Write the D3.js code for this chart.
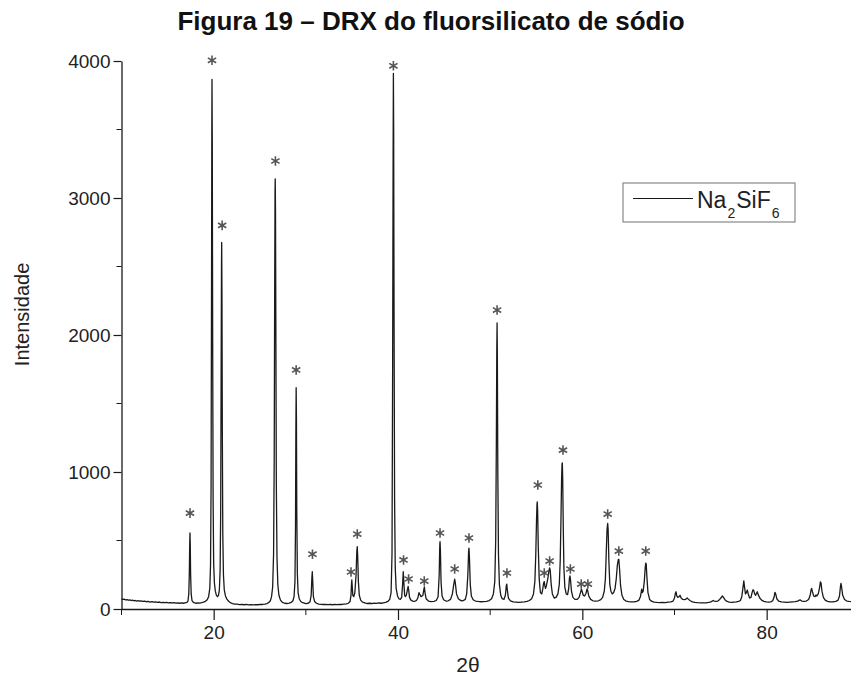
<!DOCTYPE html>
<html>
<head>
<meta charset="utf-8">
<script src="https://cdn.jsdelivr.net/npm/d3@7"></script>
<style>
  html, body { margin: 0; padding: 0; background: #fff; }
  svg { display: block; font-family: "Liberation Sans", Arial, sans-serif; }
</style>
</head>
<body>
<svg id="chart" width="851" height="680"></svg>
<script>
// ---- data ----
const titleText = "Figura 19 – DRX do fluorsilicato de sódio";
const xLabel = "2θ";
const yLabel = "Intensidade";
const xMajorTicks = [20, 40, 60, 80];
const xMinorTicks = [10, 30, 50, 70];
const yMajorTicks = [0, 1000, 2000, 3000, 4000];
const yMinorTicks = [500, 1500, 2500, 3500];

// diffractogram: [2θ, intensity]
const pattern = [
[10.00,74],[10.15,70],[10.3,72],[10.45,66],[10.6,69],[10.75,64],[10.9,66],[11.05,62],[11.2,65],[11.35,60],[11.5,62],[11.65,58],[11.8,61],[11.95,57],[12.1,59],[12.3,55],[12.5,57],[12.7,53],[12.9,55],[13.1,51],[13.3,54],[13.5,50],[13.7,52],[13.9,49],[14.1,51],[14.3,47],[14.5,49],[14.7,46],[14.9,48],[15.1,45],[15.3,47],[15.5,44],[15.7,46],[15.9,43],[16.1,45],[16.3,42],[16.5,44],[16.7,42],[16.9,45],[17.1,48],[17.22,60],
[17.3,110],[17.36,260],[17.4,470],[17.43,555],[17.46,470],[17.5,250],[17.56,110],[17.65,62],[17.8,48],
[17.95,44],[18.1,42],[18.3,44],[18.5,43],[18.7,46],[18.9,50],[19.1,56],[19.3,68],[19.45,90],[19.58,150],[19.66,320],[19.72,900],[19.77,2400],[19.8,3500],[19.82,3865],[19.85,3400],[19.89,2000],[19.94,800],[20.0,330],[20.08,190],[20.18,130],[20.3,100],[20.42,90],[20.52,100],[20.62,140],[20.7,280],[20.76,700],[20.81,1700],[20.85,2500],[20.87,2675],[20.9,2300],[20.94,1300],[20.99,550],[21.06,250],[21.15,140],[21.28,95],[21.45,70],[21.65,55],[21.85,45],[22.05,40],[22.3,36],[22.55,35],[22.8,32],[23.05,34],[23.3,31],[23.55,33],[23.8,30],[24.05,32],[24.3,30],[24.55,32],[24.8,31],[25.05,33],[25.3,33],[25.55,36],[25.8,40],[26.0,48],[26.15,60],[26.28,90],[26.4,160],[26.5,400],[26.57,1100],[26.62,2300],[26.66,3050],[26.68,3140],[26.71,2900],[26.75,2000],[26.8,900],[26.87,380],[26.96,180],[27.08,100],[27.25,65],[27.45,48],[27.7,42],[27.95,40],[28.2,43],[28.4,48],[28.6,60],[28.72,90],[28.82,200],[28.88,600],[28.92,1300],[28.95,1615],[28.98,1400],[29.02,700],[29.08,260],[29.16,120],[29.28,75],[29.45,55],[29.65,46],[29.85,42],[30.05,40],[30.25,42],[30.45,52],[30.58,100],[30.65,220],[30.7,272],[30.75,200],[30.82,90],[30.95,55],[31.15,42],[31.4,36],[31.65,34],[31.9,33],[32.15,34],[32.4,32],[32.65,33],[32.9,31],[33.15,33],[33.4,32],[33.65,34],[33.9,33],[34.15,35],[34.4,37],[34.6,42],[34.8,55],[34.9,100],[34.96,190],[34.99,212],[35.03,170],[35.1,100],[35.2,90],[35.32,120],[35.45,250],[35.53,420],[35.58,455],[35.63,380],[35.7,200],[35.8,100],[35.95,65],[36.15,50],[36.4,44],[36.65,40],[36.9,42],[37.15,40],[37.4,43],[37.65,41],[37.9,44],[38.15,42],[38.4,45],[38.65,48],[38.9,55],[39.1,70],[39.25,120],[39.35,400],[39.42,1800],[39.47,3300],[39.5,3910],[39.53,3500],[39.57,2200],[39.63,800],[39.7,300],[39.8,150],[39.95,95],[40.1,75],[40.25,70],[40.4,85],[40.5,180],[40.57,272],[40.63,200],[40.72,100],[40.8,90],[40.9,100],[41.02,140],[41.1,165],[41.16,140],[41.25,85],[41.4,65],[41.6,58],[41.8,56],[42.0,62],[42.15,80],[42.28,120],[42.35,110],[42.5,90],[42.7,100],[42.8,140],[42.86,162],[42.93,120],[43.05,75],[43.3,58],[43.6,54],[43.9,55],[44.15,62],[44.35,90],[44.47,250],[44.53,460],[44.56,492],[44.6,430],[44.67,200],[44.78,95],[44.95,68],[45.2,58],[45.45,60],[45.7,70],[45.9,110],[46.05,180],[46.15,218],[46.22,190],[46.35,110],[46.55,75],[46.8,62],[47.05,60],[47.3,70],[47.45,110],[47.58,250],[47.66,420],[47.7,445],[47.75,380],[47.84,180],[47.96,95],[48.15,68],[48.4,58],[48.7,55],[49.0,53],[49.3,54],[49.6,56],[49.9,62],[50.15,75],[50.35,110],[50.5,200],[50.6,500],[50.67,1200],[50.72,1900],[50.75,2088],[50.78,1850],[50.83,1000],[50.9,400],[51.0,180],[51.15,100],[51.3,75],[51.5,70],[51.65,100],[51.75,170],[51.8,182],[51.86,140],[51.98,80],[52.2,60],[52.5,52],[52.8,50],[53.1,48],[53.4,50],[53.7,52],[54.0,55],[54.25,62],[54.5,75],[54.7,110],[54.85,200],[54.95,400],[55.03,650],[55.08,760],[55.11,782],[55.15,720],[55.22,450],[55.32,220],[55.45,120],[55.6,110],[55.72,150],[55.8,190],[55.87,200],[55.93,170],[56.0,150],[56.1,170],[56.25,220],[56.38,280],[56.45,300],[56.52,280],[56.62,180],[56.75,110],[56.95,80],[57.15,85],[57.35,110],[57.5,180],[57.6,350],[57.68,650],[57.75,950],[57.8,1060],[57.83,1066],[57.87,950],[57.93,600],[58.0,300],[58.1,160],[58.25,110],[58.4,105],[58.52,150],[58.6,225],[58.66,242],[58.72,210],[58.82,130],[58.98,85],[59.2,70],[59.45,70],[59.65,85],[59.8,120],[59.9,145],[59.97,130],[60.1,100],[60.25,95],[60.4,115],[60.5,145],[60.58,135],[60.7,95],[60.9,70],[61.15,60],[61.45,58],[61.75,60],[62.0,68],[62.2,85],[62.38,130],[62.5,220],[62.6,420],[62.68,580],[62.75,625],[62.8,580],[62.88,350],[62.98,180],[63.1,130],[63.25,110],[63.4,120],[63.55,150],[63.68,220],[63.8,320],[63.9,360],[63.96,362],[64.03,300],[64.15,170],[64.3,100],[64.5,70],[64.75,58],[65.0,54],[65.3,52],[65.6,52],[65.9,56],[66.15,65],[66.3,90],[66.38,120],[66.44,145],[66.52,120],[66.6,130],[66.72,200],[66.82,300],[66.88,335],[66.93,330],[67.0,240],[67.12,120],[67.3,70],[67.55,55],[67.8,50],[68.1,48],[68.4,47],[68.7,48],[69.0,47],[69.3,50],[69.6,52],[69.85,58],[70.0,80],[70.1,115],[70.16,126],[70.25,95],[70.35,85],[70.5,90],[70.6,100],[70.72,80],[70.9,70],[71.1,68],[71.25,72],[71.38,80],[71.5,72],[71.7,60],[71.95,52],[72.2,48],[72.5,46],[72.8,45],[73.1,44],[73.4,45],[73.7,48],[73.95,52],[74.1,58],[74.21,62],[74.3,58],[74.5,55],[74.7,58],[74.9,70],[75.05,82],[75.2,95],[75.32,85],[75.5,65],[75.7,55],[75.95,50],[76.2,48],[76.45,50],[76.7,52],[76.95,55],[77.15,62],[77.3,90],[77.42,150],[77.52,205],[77.6,160],[77.7,110],[77.8,120],[77.9,138],[78.0,110],[78.15,80],[78.3,85],[78.42,120],[78.5,140],[78.58,138],[78.7,110],[78.8,100],[78.9,115],[78.98,126],[79.08,105],[79.25,80],[79.45,65],[79.7,56],[79.95,52],[80.2,50],[80.45,52],[80.65,60],[80.8,85],[80.9,122],[80.98,110],[81.1,75],[81.3,58],[81.6,52],[81.9,50],[82.2,48],[82.5,50],[82.8,52],[83.1,54],[83.35,58],[83.55,65],[83.65,66],[83.8,58],[84.05,55],[84.3,58],[84.55,70],[84.72,100],[84.82,140],[84.88,150],[84.95,130],[85.1,95],[85.25,90],[85.35,102],[85.45,95],[85.6,110],[85.75,160],[85.83,198],[85.9,190],[86.0,130],[86.15,85],[86.35,65],[86.6,56],[86.9,52],[87.2,52],[87.5,56],[87.75,65],[87.9,95],[88.0,160],[88.06,187],[88.12,165],[88.25,100],[88.45,70],[88.7,58],[88.95,55],[89.15,54]
];

// asterisk markers: [2θ, intensity position of the mark]
const starMarks = [
[17.43,700],[19.82,4005],[20.92,2800],[26.7,3270],[28.95,1745],[30.72,400],[34.9,270],[35.58,547],
[39.5,3965],[40.6,358],[41.15,219],[42.85,204],[44.56,555],[46.15,292],[47.7,518],[50.75,2182],
[51.82,263],[55.17,905],[55.87,263],[56.45,350],[57.9,1160],[58.7,292],[59.88,182],[60.6,182],
[62.75,693],[63.96,423],[66.88,423]
];

const legendLabel = [["Na", false], ["2", true], ["SiF", false], ["6", true]];

// ---- drawing ----
const svg = d3.select("#chart");
const x = d3.scaleLinear().domain([10, 89.15]).range([121.5, 851]);
const y = d3.scaleLinear().domain([0, 4000]).range([609, 61]);

const ink = "#1a1a1a";

// title
svg.append("text")
  .attr("x", 431).attr("y", 30)
  .attr("text-anchor", "middle")
  .attr("font-size", 26).attr("font-weight", "bold")
  .attr("fill", "#111")
  .text(titleText);

// x axis
const gx = svg.append("g").attr("transform", `translate(0,${y(0)})`);
gx.call(d3.axisBottom(x).tickValues(xMajorTicks).tickFormat(d3.format("d")).tickSize(11).tickSizeOuter(0).tickPadding(6));
gx.call(g => g.append("g").selectAll("line").data(xMinorTicks).join("line")
  .attr("x1", d => x(d)).attr("x2", d => x(d)).attr("y1", 0).attr("y2", 6).attr("stroke", ink));

// y axis
const gy = svg.append("g").attr("transform", `translate(${x(10)},0)`);
gy.call(d3.axisLeft(y).tickValues(yMajorTicks).tickFormat(d3.format("d")).tickSize(8).tickSizeOuter(0).tickPadding(3));
gy.call(g => g.append("g").selectAll("line").data(yMinorTicks).join("line")
  .attr("y1", d => y(d)).attr("y2", d => y(d)).attr("x1", 0).attr("x2", -5).attr("stroke", ink));

[gx, gy].forEach(g => {
  g.selectAll("path.domain").attr("stroke", ink).attr("stroke-width", 1.3);
  g.selectAll(".tick line").attr("stroke", ink).attr("stroke-width", 1.2);
  g.selectAll(".tick text").attr("font-size", 19).attr("fill", "#222")
    .attr("font-family", "'Liberation Sans', Arial, sans-serif");
});

// axis labels
svg.append("text")
  .attr("x", x(47.6)).attr("y", 672)
  .attr("text-anchor", "middle").attr("font-size", 21).attr("fill", "#222")
  .text(xLabel);
svg.append("text")
  .attr("transform", `translate(29,${y(2150)}) rotate(-90)`)
  .attr("text-anchor", "middle").attr("font-size", 20).attr("fill", "#222")
  .text(yLabel);

// pattern line
const line = d3.line().x(d => x(d[0])).y(d => y(d[1]));
svg.append("path")
  .datum(pattern)
  .attr("d", line)
  .attr("fill", "none")
  .attr("stroke", ink)
  .attr("stroke-width", 1.3)
  .attr("stroke-linejoin", "round");

// asterisks
if (d3.symbolAsterisk) {
  const sym = d3.symbol().type(d3.symbolAsterisk).size(64);
  svg.append("g").selectAll("path").data(starMarks).join("path")
    .attr("transform", d => `translate(${x(d[0])},${y(d[1])})`)
    .attr("d", sym)
    .attr("fill", "none").attr("stroke", "#555").attr("stroke-width", 1.6);
} else {
  svg.append("g").selectAll("text").data(starMarks).join("text")
    .attr("x", d => x(d[0])).attr("y", d => y(d[1]) + 10)
    .attr("text-anchor", "middle").attr("font-size", 18).attr("fill", "#555")
    .text("*");
}

// legend
const lg = svg.append("g");
lg.append("rect").attr("x", 623).attr("y", 183).attr("width", 172).attr("height", 39)
  .attr("fill", "#fff").attr("stroke", "#888").attr("stroke-width", 1.2);
lg.append("line").attr("x1", 633).attr("x2", 693).attr("y1", 198.5).attr("y2", 198.5)
  .attr("stroke", ink).attr("stroke-width", 1.2);
const lt = lg.append("text").attr("x", 697).attr("y", 208).attr("font-size", 23).attr("fill", "#222");
legendLabel.forEach(([s, sub]) => {
  const ts = lt.append("tspan").text(s);
  if (sub) ts.attr("font-size", 14).attr("dy", 10).attr("dx", 1);
  else ts.attr("dy", lt.selectAll("tspan").size() > 1 ? -10 : 0).attr("dx", lt.selectAll("tspan").size() > 1 ? 1 : 0);
});
</script>
</body>
</html>
